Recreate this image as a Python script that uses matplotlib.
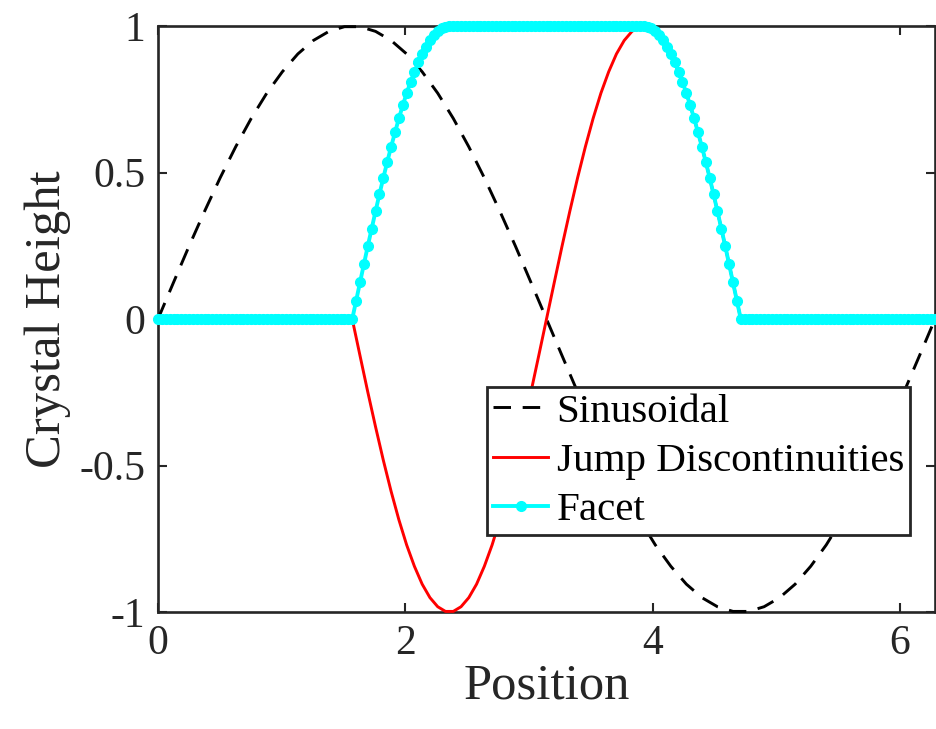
import numpy as np
import matplotlib
matplotlib.use("Agg")
import matplotlib.pyplot as plt

# half period of a sine, read at 26 even steps (0 .. peak .. 0)
half_wave = [0.0, 0.125, 0.249, 0.368, 0.482, 0.588, 0.685, 0.771, 0.844, 0.905,
             0.951, 0.982, 0.998, 0.998, 0.982, 0.951, 0.905, 0.844, 0.771, 0.685,
             0.588, 0.482, 0.368, 0.249, 0.125, 0.0]
# facet rising edge, 26 markers from 0 up to the plateau
facet_ramp = [0.0, 0.063, 0.125, 0.187, 0.249, 0.309, 0.368, 0.426, 0.482, 0.536,
              0.588, 0.637, 0.685, 0.729, 0.771, 0.809, 0.844, 0.876, 0.905, 0.930,
              0.951, 0.969, 0.982, 0.992, 0.998, 1.0]

# sinusoidal: 51 samples over [0, 2pi]
sin_x = np.linspace(0, 2 * np.pi, 51)
sin_y = half_wave + [-v for v in half_wave[1:]]

# jump discontinuities: zero, then one full dip/peak between pi/2 and 3pi/2, then zero
jump_x = np.concatenate([[0.0], np.linspace(np.pi / 2, 3 * np.pi / 2, 51), [2 * np.pi]])
jump_y = [0.0] + [-v for v in half_wave] + half_wave[1:] + [0.0]

# facet: 201 markers over [0, 2pi]
facet_x = np.linspace(0, 2 * np.pi, 201)
facet_y = [0.0] * 50 + facet_ramp + [1.0] * 49 + facet_ramp[::-1] + [0.0] * 50

plt.rcParams['font.family'] = ['Liberation Serif', 'DejaVu Serif']

fig = plt.figure(figsize=(9.37, 7.29), dpi=100)
ax = fig.add_axes([0.1686, 0.1605, 0.8293, 0.8037])

ax.plot(sin_x, sin_y, color='black', lw=2.1, ls=(0, (6, 4)), label='Sinusoidal',
        clip_on=False, zorder=3)
ax.plot(jump_x, jump_y, color='red', lw=2.1, label='Jump Discontinuities',
        clip_on=False, zorder=4)
ax.plot(facet_x, facet_y, color='cyan', lw=2.8, marker='o', markersize=7,
        label='Facet', clip_on=False, zorder=5)

ax.set_xlim(0, 2 * np.pi)
ax.set_ylim(-1, 1)
ax.set_xticks([0, 2, 4, 6])
ax.set_yticks([-1, -0.5, 0, 0.5, 1])
ax.set_yticklabels(['-1', '-0.5', '0', '0.5', '1'])
ax.tick_params(direction='in', length=6.5, width=1.5, labelsize=30, colors='#262626',
               top=True, right=True, pad=9)
for sp in ax.spines.values():
    sp.set_linewidth(1.9)
    sp.set_color('#262626')
    sp.set_zorder(2)

ax.set_xlabel('Position', fontsize=36.5, color='#262626', labelpad=0)
ax.set_ylabel('Crystal Height', fontsize=36.5, color='#262626', labelpad=6)

leg = ax.legend(loc='lower left', bbox_to_anchor=(0.4234, 0.131), borderaxespad=0,
                fontsize=29.5, frameon=True, fancybox=False, edgecolor='#262626',
                framealpha=1, handlelength=1.35, handletextpad=0.2, borderpad=0.15,
                labelspacing=0.28)
leg.get_frame().set_linewidth(2.0)
leg.set_zorder(6)

fig.savefig('out.png', dpi=100)
